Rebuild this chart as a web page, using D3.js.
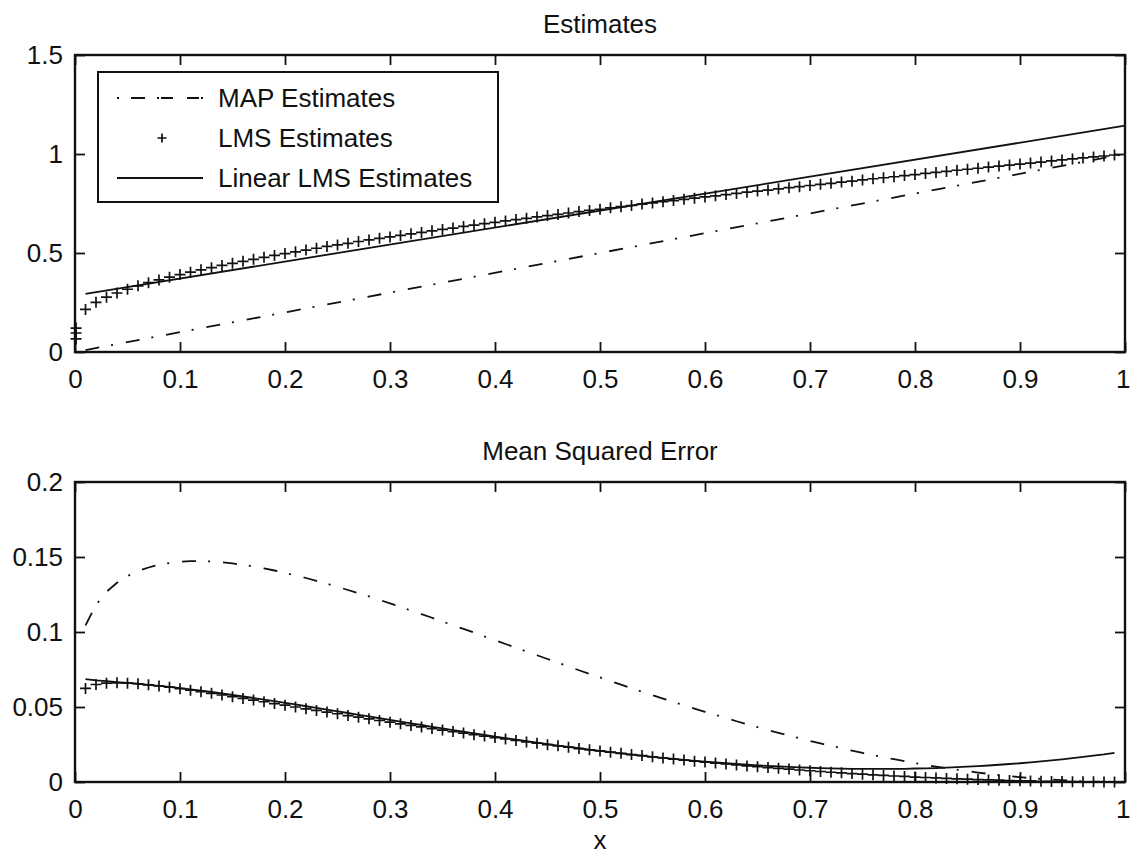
<!DOCTYPE html>
<html>
<head>
<meta charset="utf-8">
<script src="https://cdn.jsdelivr.net/npm/d3@7"></script>
<style>
  body { margin: 0; background: #fff; }
  svg text { font-family: "Liberation Sans", Arial, sans-serif; fill: #111; }
</style>
</head>
<body>
<div id="chart"></div>
<script>
// x grid used by the sampled series (0.01 .. 0.99)
const xs = d3.range(1, 100).map(i => i / 100);

// top panel: estimates
const mapEst = [[0.01, 0.01], [1, 1]];
const linEst = [[0.01, 0.294], [1, 1.143]];
const lmsNearZero = [[0.001, 0.066], [0.001, 0.096], [0.001, 0.121]];
const lmsEst = [
  0.215,0.251,0.277,0.298,0.317,0.334,0.350,0.364,0.378,0.391,
  0.403,0.415,0.426,0.437,0.448,0.458,0.468,0.478,0.488,0.497,
  0.506,0.515,0.524,0.533,0.541,0.549,0.558,0.566,0.574,0.581,
  0.589,0.597,0.604,0.612,0.619,0.626,0.634,0.641,0.648,0.655,
  0.662,0.669,0.675,0.682,0.689,0.695,0.702,0.709,0.715,0.721,
  0.728,0.734,0.740,0.747,0.753,0.759,0.765,0.771,0.777,0.783,
  0.789,0.795,0.801,0.807,0.813,0.818,0.824,0.830,0.835,0.841,
  0.847,0.852,0.858,0.863,0.869,0.875,0.880,0.885,0.891,0.896,
  0.902,0.907,0.912,0.918,0.923,0.928,0.934,0.939,0.944,0.949,
  0.954,0.959,0.965,0.970,0.975,0.980,0.985,0.990,0.995
];

// bottom panel: mean squared error
const mapMse = [
  .1044,.1181,.1268,.1328,.1373,.1406,.1430,.1448,.1460,.1468,
  .1472,.1472,.1470,.1465,.1457,.1448,.1437,.1424,.1410,.1394,
  .1378,.1360,.1341,.1322,.1301,.1280,.1259,.1237,.1214,.1191,
  .1167,.1143,.1119,.1095,.1070,.1045,.1021,.0996,.0970,.0945,
  .0920,.0895,.0870,.0845,.0820,.0795,.0770,.0745,.0721,.0697,
  .0673,.0649,.0625,.0602,.0579,.0556,.0533,.0511,.0489,.0468,
  .0447,.0426,.0405,.0385,.0366,.0346,.0328,.0310,.0292,.0274,
  .0257,.0241,.0225,.0209,.0194,.0179,.0165,.0152,.0139,.0126,
  .0114,.0103,.0092,.0082,.0072,.0063,.0054,.0047,.0039,.0032,
  .0026,.0021,.0016,.0012,.0008,.0005,.0003,.0001,.0000
];
const lmsMse = [
  .0624,.0650,.0659,.0661,.0659,.0655,.0648,.0640,.0632,.0622,
  .0612,.0602,.0591,.0580,.0569,.0557,.0546,.0535,.0523,.0512,
  .0500,.0488,.0477,.0466,.0455,.0443,.0432,.0421,.0410,.0399,
  .0388,.0377,.0367,.0356,.0346,.0336,.0326,.0315,.0306,.0296,
  .0287,.0277,.0267,.0259,.0249,.0241,.0232,.0223,.0215,.0207,
  .0199,.0191,.0183,.0176,.0168,.0160,.0153,.0146,.0139,.0133,
  .0126,.0120,.0114,.0107,.0102,.0096,.0091,.0086,.0080,.0075,
  .0070,.0065,.0061,.0056,.0052,.0048,.0044,.0040,.0037,.0033,
  .0030,.0027,.0024,.0021,.0019,.0016,.0014,.0012,.0010,.0008,
  .0007,.0005,.0004,.0003,.0002,.0001,.0001,.0000,.0000
];
const linMse = [
  .0686,.0678,.0672,.0666,.0661,.0655,.0648,.0641,.0634,.0626,
  .0618,.0609,.0600,.0590,.0580,.0570,.0560,.0549,.0539,.0528,
  .0517,.0505,.0494,.0483,.0471,.0460,.0448,.0437,.0425,.0414,
  .0402,.0391,.0380,.0368,.0357,.0346,.0335,.0324,.0314,.0303,
  .0293,.0282,.0272,.0262,.0252,.0243,.0234,.0225,.0215,.0208,
  .0199,.0191,.0183,.0176,.0168,.0161,.0154,.0148,.0141,.0135,
  .0130,.0125,.0120,.0115,.0111,.0107,.0104,.0101,.0098,.0095,
  .0093,.0091,.0089,.0088,.0087,.0087,.0087,.0088,.0088,.0090,
  .0091,.0093,.0096,.0099,.0102,.0106,.0110,.0115,.0120,.0125,
  .0131,.0137,.0144,.0151,.0159,.0167,.0176,.0184,.0194
];

const xTicks = [0, 0.1, 0.2, 0.3, 0.4, 0.5, 0.6, 0.7, 0.8, 0.9, 1];
const yTicksTop = [0, 0.5, 1, 1.5];
const yTicksBottom = [0, 0.05, 0.1, 0.15, 0.2];
const legendItems = ["MAP Estimates", "LMS Estimates", "Linear LMS Estimates"];

const W = 1131, H = 855;
const dashDot = "14,12,2,13";
const plusPath = "M-5.5,0H5.5M0,-5.5V5.5";

const svg = d3.select("#chart").append("svg")
  .attr("width", W)
  .attr("height", H);

const fmt = d => d === 0 ? "0" : String(d);

const makePanel = (top, bottom, yDomain, yTicks, title) => {
  const left = 75, right = 1125;
  const x = d3.scaleLinear().domain([0, 1]).range([left, right]);
  const y = d3.scaleLinear().domain(yDomain).range([bottom, top]);

  const g = svg.append("g");

  // ticks pointing inward on all four sides
  const xb = g.append("g")
    .attr("transform", `translate(0,${bottom})`)
    .call(d3.axisBottom(x).tickValues(xTicks).tickSizeInner(-10).tickSizeOuter(0).tickPadding(18).tickFormat(fmt));
  g.append("g")
    .attr("transform", `translate(0,${top})`)
    .call(d3.axisTop(x).tickValues(xTicks).tickSizeInner(-10).tickSizeOuter(0).tickFormat(""));
  g.append("g")
    .attr("transform", `translate(${left},0)`)
    .call(d3.axisLeft(y).tickValues(yTicks).tickSizeInner(-10).tickSizeOuter(0).tickPadding(12).tickFormat(fmt));
  g.append("g")
    .attr("transform", `translate(${right},0)`)
    .call(d3.axisRight(y).tickValues(yTicks).tickSizeInner(-10).tickSizeOuter(0).tickFormat(""));

  g.selectAll(".domain").remove();
  g.selectAll(".tick line").attr("stroke", "#111").attr("stroke-width", 1.8);
  g.selectAll(".tick text").attr("font-size", 26).attr("fill", "#111");
  // keep the last label ("1") inside the window
  xb.selectAll(".tick text").filter(d => d === 1).attr("text-anchor", "end").attr("x", 5);

  g.append("rect")
    .attr("x", left).attr("y", top)
    .attr("width", right - left).attr("height", bottom - top)
    .attr("fill", "none").attr("stroke", "#111").attr("stroke-width", 2.4);

  svg.append("text")
    .attr("x", (left + right) / 2).attr("y", top - 22)
    .attr("text-anchor", "middle")
    .attr("font-size", 26)
    .text(title);

  return [x, y];
};

const line = (x, y) => d3.line().x(d => x(d[0])).y(d => y(d[1]));

const drawPluses = (pts, x, y) => {
  svg.append("g").selectAll("path")
    .data(pts)
    .enter()
    .append("path")
    .attr("transform", d => `translate(${x(d[0])},${y(d[1])})`)
    .attr("d", plusPath)
    .attr("stroke", "#111")
    .attr("stroke-width", 1.7)
    .attr("fill", "none");
};

// ---- top panel ----
const [x1, y1] = makePanel(55, 352, [0, 1.5], yTicksTop, "Estimates");

svg.append("path")
  .datum(mapEst)
  .attr("d", line(x1, y1))
  .attr("fill", "none").attr("stroke", "#111").attr("stroke-width", 1.8)
  .attr("stroke-dasharray", dashDot);

svg.append("path")
  .datum(linEst)
  .attr("d", line(x1, y1))
  .attr("fill", "none").attr("stroke", "#111").attr("stroke-width", 1.8);

drawPluses(lmsNearZero.concat(xs.map((v, i) => [v, lmsEst[i]])), x1, y1);

// legend
const lg = svg.append("g");
lg.append("rect")
  .attr("x", 98).attr("y", 72)
  .attr("width", 400).attr("height", 130)
  .attr("fill", "#fff").attr("stroke", "#111").attr("stroke-width", 2);

legendItems.forEach((name, i) => {
  const cy = 98 + i * 40;
  if (i === 0) {
    lg.append("line").attr("x1", 117).attr("x2", 203).attr("y1", cy).attr("y2", cy)
      .attr("stroke", "#111").attr("stroke-width", 1.8).attr("stroke-dasharray", "2,12,14,12,2");
  } else if (i === 1) {
    lg.append("path").attr("transform", `translate(162,${cy})`).attr("d", "M-4.5,0H4.5M0,-4.5V4.5")
      .attr("stroke", "#111").attr("stroke-width", 1.7);
  } else {
    lg.append("line").attr("x1", 117).attr("x2", 203).attr("y1", cy).attr("y2", cy)
      .attr("stroke", "#111").attr("stroke-width", 1.8);
  }
  lg.append("text")
    .attr("x", 218).attr("y", cy + 9)
    .attr("font-size", 26)
    .text(name);
});

// ---- bottom panel ----
const [x2, y2] = makePanel(482, 782, [0, 0.2], yTicksBottom, "Mean Squared Error");

svg.append("path")
  .datum(xs.map((v, i) => [v, mapMse[i]]))
  .attr("d", line(x2, y2))
  .attr("fill", "none").attr("stroke", "#111").attr("stroke-width", 1.8)
  .attr("stroke-dasharray", dashDot);

svg.append("path")
  .datum(xs.map((v, i) => [v, linMse[i]]))
  .attr("d", line(x2, y2))
  .attr("fill", "none").attr("stroke", "#111").attr("stroke-width", 1.8);

drawPluses(xs.map((v, i) => [v, lmsMse[i]]), x2, y2);

svg.append("text")
  .attr("x", 600).attr("y", 849)
  .attr("text-anchor", "middle")
  .attr("font-size", 26)
  .text("x");
</script>
</body>
</html>
